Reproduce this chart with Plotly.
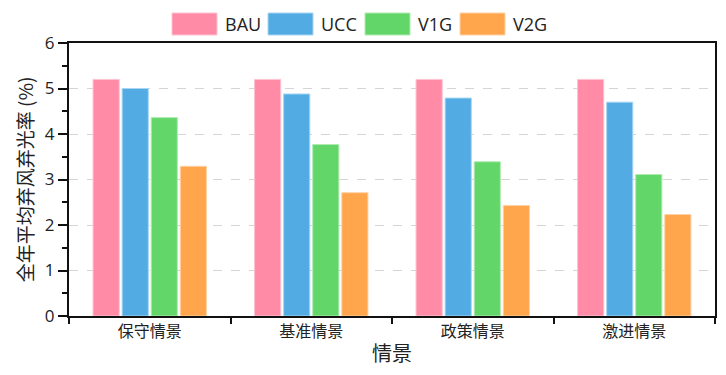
import plotly.graph_objects as go

categories = ["保守情景", "基准情景", "政策情景", "激进情景"]
series_names = ["BAU", "UCC", "V1G", "V2G"]
bau = [5.20, 5.20, 5.20, 5.20]
ucc = [5.00, 4.88, 4.79, 4.70]
v1g = [4.36, 3.77, 3.39, 3.11]
v2g = [3.29, 2.71, 2.43, 2.23]
colors = ["#FF8BA7", "#52ACE3", "#63D66A", "#FFA54C"]
edge_colors = ["#FFC2D0", "#A8D6F2", "#B0EBB3", "#FFD2A5"]
y_ticks = [0, 1, 2, 3, 4, 5, 6]

values = [bau, ucc, v1g, v2g]

CJK = "Noto Sans CJK SC"
fig = go.Figure()
for name, vals, c, ec in zip(series_names, values, colors, edge_colors):
    fig.add_trace(go.Bar(x=categories, y=vals, name=name, marker=dict(color=c, line=dict(color=ec, width=1)),
                         showlegend=False, hoverinfo="skip"))

# manual legend with wide swatches
legend_x = [172, 268, 365, 460]
W, H = 726, 375
L, R, T, B = 69, 715, 43, 316
for i, (name, c, ec) in enumerate(zip(series_names, colors, edge_colors)):
    x0 = legend_x[i]
    fig.add_shape(type="rect", xref="paper", yref="paper",
                  x0=(x0 - L) / (R - L), x1=(x0 + 45 - L) / (R - L),
                  y0=(B - 35) / (B - T), y1=(B - 13) / (B - T),
                  fillcolor=c, line=dict(color=ec, width=1), layer="above")
    fig.add_annotation(xref="paper", yref="paper", x=(x0 + 51 - L) / (R - L),
                       y=(B - 24) / (B - T), text=name, showarrow=False,
                       xanchor="left", yanchor="middle",
                       font=dict(family="Open Sans", size=18, color="#222"))

fig.update_layout(
    width=W, height=H,
    margin=dict(l=L, r=W - R, t=T, b=H - B),
    barmode="group", bargap=0.28, bargroupgap=0.1,
    plot_bgcolor="white", paper_bgcolor="white",
    font=dict(family=CJK, color="#222"),
)
fig.update_xaxes(
    automargin=False,
    showline=True, linecolor="#111", linewidth=2, mirror=True,
    ticks="outside", tickson="boundaries", ticklen=6, tickwidth=2, tickcolor="#111",
    tickfont=dict(family=CJK, size=16, color="#222"),
    title=dict(text="情景", font=dict(family=CJK, size=20, color="#222"), standoff=6),
)
fig.update_yaxes(
    automargin=False,
    range=[0, 6], tickvals=y_ticks,
    showline=True, linecolor="#111", linewidth=2, mirror=True,
    ticks="outside", ticklen=9, tickwidth=2, tickcolor="#111",
    minor=dict(ticks="outside", ticklen=5, tickwidth=2, tickcolor="#111", dtick=0.5, showgrid=False),
    showgrid=True, gridcolor="#d5d5d5", griddash="dash", gridwidth=1,
    tickfont=dict(family="Open Sans", size=17, color="#222"),
    title=dict(text="全年平均弃风弃光率 (%)", font=dict(family=CJK, size=19, color="#222"), standoff=6),
    zeroline=False,
)

fig.write_html("out.html", config={"displayModeBar": False},
               post_script="document.body.style.margin='0';document.body.style.overflow='hidden';")
